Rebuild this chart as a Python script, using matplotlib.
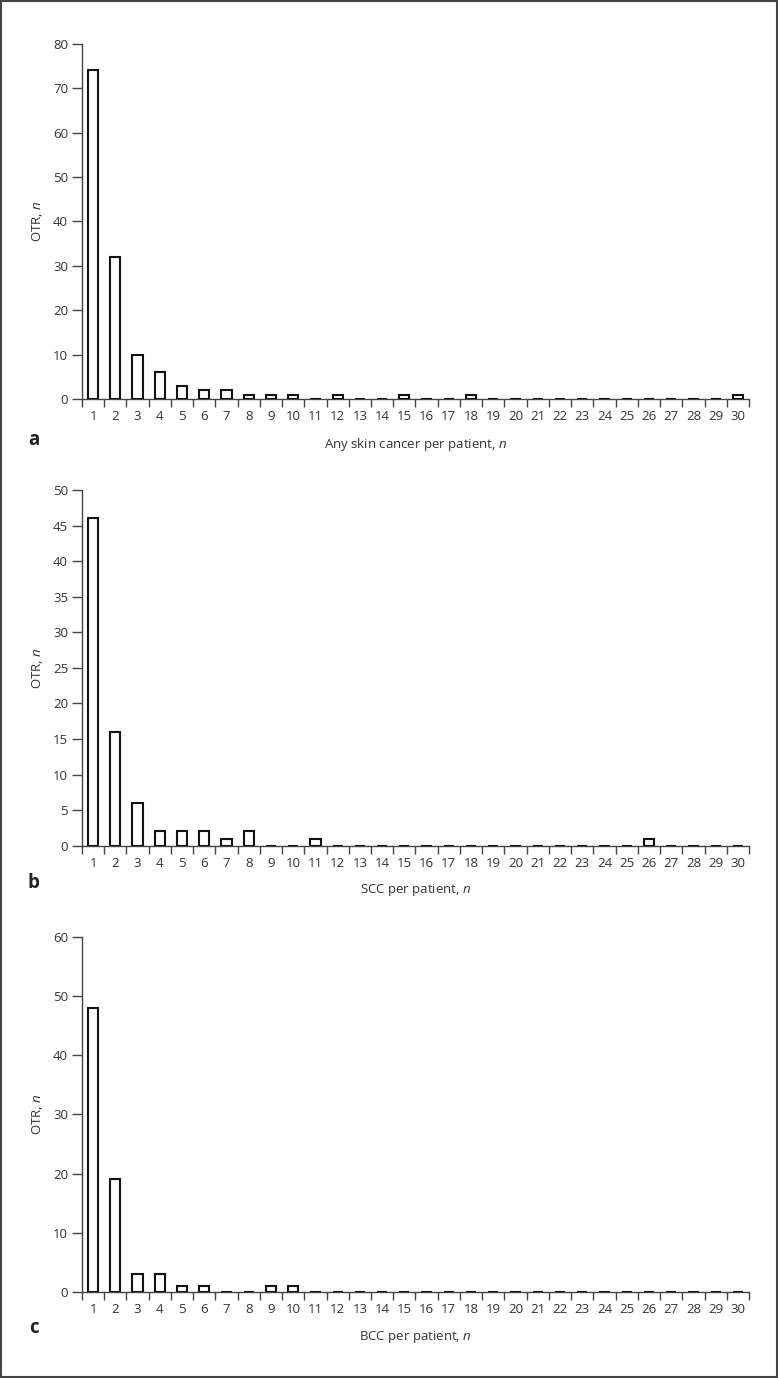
import matplotlib
matplotlib.use("Agg")
import matplotlib.pyplot as plt
from matplotlib.patches import Rectangle
from matplotlib.ticker import MultipleLocator

# ==========================================
# DATA (OTR count per number of tumours)
# ==========================================
categories = list(range(1, 31))

any_skin_cancer = [74, 32, 10, 6, 3, 2, 2, 1, 1, 1, 0, 1, 0, 0, 1,
                   0, 0, 1, 0, 0, 0, 0, 0, 0, 0, 0, 0, 0, 0, 1]
scc_counts = [46, 16, 6, 2, 2, 2, 1, 2, 0, 0, 1, 0, 0, 0, 0,
              0, 0, 0, 0, 0, 0, 0, 0, 0, 0, 1, 0, 0, 0, 0]
bcc_counts = [48, 19, 3, 3, 1, 1, 0, 0, 1, 1, 0, 0, 0, 0, 0,
              0, 0, 0, 0, 0, 0, 0, 0, 0, 0, 0, 0, 0, 0, 0]

panel_letters = ["a", "b", "c"]
x_labels = ["Any skin cancer per patient, $n$",
            "SCC per patient, $n$",
            "BCC per patient, $n$"]
y_max = [80, 50, 60]
y_step = [10, 5, 10]
# ==========================================

TEXT = "#333333"
plt.rcParams["font.family"] = ["Open Sans", "DejaVu Sans"]
plt.rcParams["mathtext.fontset"] = "custom"
plt.rcParams["mathtext.rm"] = "Open Sans"
plt.rcParams["mathtext.it"] = "Open Sans:italic"
plt.rcParams["font.size"] = 9.5
plt.rcParams["text.color"] = TEXT
plt.rcParams["axes.labelcolor"] = TEXT
plt.rcParams["xtick.color"] = TEXT
plt.rcParams["ytick.color"] = TEXT

fig = plt.figure(figsize=(7.78, 13.78), dpi=100)

# axes boxes in figure fractions [left, bottom, width, height]
boxes = [
    [0.1054, 0.7104, 0.8573, 0.2579],
    [0.1054, 0.3863, 0.8573, 0.2581],
    [0.1054, 0.0624, 0.8573, 0.2579],
]
letter_y = [0.681, 0.359, 0.036]

series = [any_skin_cancer, scc_counts, bcc_counts]

for i, vals in enumerate(series):
    ax = fig.add_axes(boxes[i])
    ax.bar(categories, vals, width=0.46, color="white",
           edgecolor="#111111", linewidth=1.5, zorder=3)

    ax.set_xlim(0.5, 30.5)
    ax.set_ylim(0, y_max[i])
    ax.yaxis.set_major_locator(MultipleLocator(y_step[i]))
    ax.set_xticks(categories)
    ax.set_xticks([c + 0.5 for c in [0] + categories], minor=True)

    for side in ["top", "right"]:
        ax.spines[side].set_visible(False)
    for side in ["left", "bottom"]:
        ax.spines[side].set_color("#444444")
        ax.spines[side].set_linewidth(1.0)

    ax.tick_params(axis="x", which="major", length=0, pad=8, labelsize=9.5)
    ax.tick_params(axis="x", which="minor", direction="out", length=6,
                   width=1.0, color="#444444")
    ax.tick_params(axis="y", direction="out", length=7, width=1.0,
                   color="#444444", pad=3, labelsize=9.5)

    ax.set_ylabel("OTR, $n$", fontsize=9.5, labelpad=6)
    ax.set_xlabel(x_labels[i], fontsize=9.5, labelpad=9)

    fig.text(0.043, letter_y[i], panel_letters[i], fontsize=13.5,
             fontweight="bold", color="#222222", ha="center", va="center")

# outer frame
fig.patches.append(Rectangle((0.0015, 0.001), 0.997, 0.998,
                             transform=fig.transFigure, fill=False,
                             edgecolor="#444444", linewidth=1.5))

fig.savefig("out.png", dpi=100)
